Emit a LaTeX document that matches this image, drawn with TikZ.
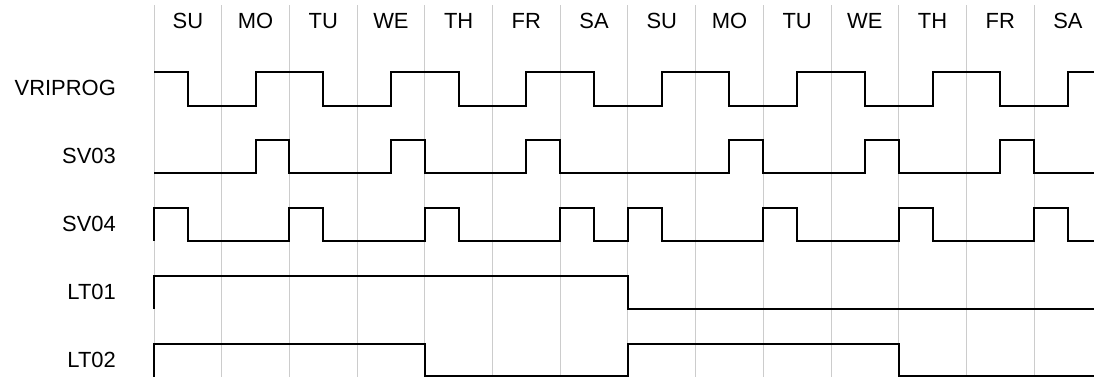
\documentclass[tikz,border=0pt]{standalone}
\usepackage{fontspec}
\setmainfont{Liberation Sans}
\tikzset{
  wave/.style={line width=1.4pt, black},
  gridline/.style={gray!40, line width=0.7pt},
  siglabel/.style={anchor=east, inner sep=0pt, font=\fontsize{15.6}{18}\selectfont},
  daylabel/.style={font=\fontsize{15.6}{18}\selectfont},
}
\begin{document}
\begin{tikzpicture}[x=0.84625cm, y=-0.025cm]
  \useasboundingbox (-4.55,0) rectangle (27.77,377);
  \foreach \d [count=\i from 0] in {SU,MO,TU,WE,TH,FR,SA,SU,MO,TU,WE,TH,FR,SA} {
    \draw[gridline] (2*\i,5) -- (2*\i,377);
    \node[daylabel] (day\i) at (2*\i+1,21) {\d};
  }
  \node[siglabel] (vriprog) at (-1.12,88) {VRIPROG};
  \node[siglabel] (sv03) at (-1.12,156) {SV03};
  \node[siglabel] (sv04) at (-1.12,224) {SV04};
  \node[siglabel] (lt01) at (-1.12,292) {LT01};
  \node[siglabel] (lt02) at (-1.12,360) {LT02};
  \draw[wave] (0,72) -| (1,106) -| (3,72) -| (5,106) -| (7,72) -| (9,106) -| (11,72) -| (13,106)
    -| (15,72) -| (17,106) -| (19,72) -| (21,106) -| (23,72) -| (25,106) -| (27,72) -- (27.8,72);
  \draw[wave] (0,173) -| (3,140) -| (4,173) -| (7,140) -| (8,173) -| (11,140) -| (12,173)
    -| (17,140) -| (18,173) -| (21,140) -| (22,173) -| (25,140) -| (26,173) -- (27.8,173);
  \draw[wave] (0,241) -- (0,208) -| (1,241) -| (4,208) -| (5,241) -| (8,208) -| (9,241) -| (12,208) -| (13,241)
    -| (14,208) -| (15,241) -| (18,208) -| (19,241) -| (22,208) -| (23,241) -| (26,208) -| (27,241) -- (27.8,241);
  \draw[wave] (0,309) -- (0,276) -| (14,309) -- (27.8,309);
  \draw[wave] (0,377) -- (0,344) -| (8,376) -| (14,344) -| (22,376) -- (27.8,376);
\end{tikzpicture}
\end{document}
